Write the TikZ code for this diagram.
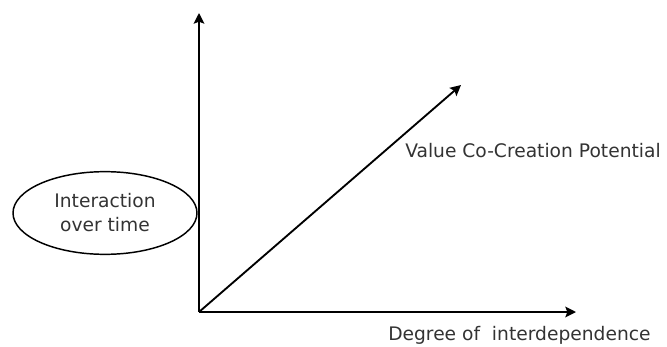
\documentclass[tikz,border=0pt]{standalone}
\usepackage{fontspec}
\setmainfont{DejaVu Sans}
\usetikzlibrary{arrows.meta, positioning, shapes.geometric}

\begin{document}
\begin{tikzpicture}[
    x=0.75pt, y=-0.75pt,
    >={Stealth[length=8pt, width=8pt, inset=1.5pt]},
    font=\fontsize{14}{18}\selectfont,
    axis/.style={->, line width=1.4pt},
    lbl/.style={inner sep=0pt, text=black!80},
    oval/.style={ellipse, draw, line width=1.1pt, align=center, text=black!80,
                 minimum width=138pt, minimum height=62pt, inner sep=0pt}
]
\useasboundingbox (0,0) rectangle (667,346);

% ================= AXES =================
\coordinate (origin) at (199,312);
\coordinate (yTip)   at (199,13);
\coordinate (xTip)   at (576,312);
\coordinate (dTip)   at (461,85);

\draw[axis] (origin) -- (yTip);
\draw[axis] (origin) -- (xTip);
\draw[axis] (origin) -- (dTip);

% ================= LABELS =================
\node[lbl, anchor=base west] (valueLbl) at (405,157) {Value Co-Creation Potential};
\node[lbl, anchor=base west] (degreeLbl) at (388,340) {Degree of\ \ interdependence};

% Oval on the vertical axis
\node[oval] (interaction) at (105,213) {Interaction\\over time};

\end{tikzpicture}
\end{document}
